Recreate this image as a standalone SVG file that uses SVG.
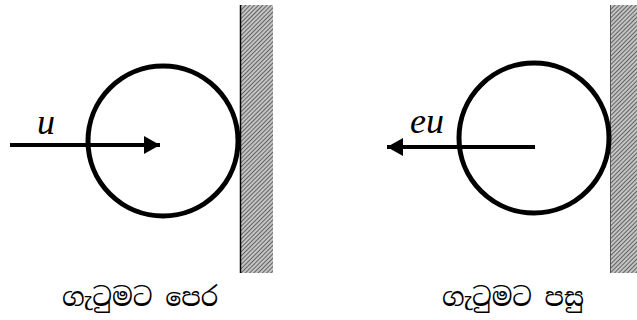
<svg xmlns="http://www.w3.org/2000/svg" width="637" height="320" viewBox="0 0 637 320">
<style>
.ball{fill:none;stroke:#000;stroke-width:5}
.vec{stroke:#000;stroke-width:4;fill:none}
.wall{fill:url(#hatch)}
</style>
<defs>
<pattern id="hatch" patternUnits="userSpaceOnUse" width="3" height="3" patternTransform="rotate(45)">
<rect width="3" height="3" fill="#c4c4c4"/>
<line x1="0" y1="0" x2="0" y2="3" stroke="#444" stroke-width="1.5"/>
</pattern>
<marker id="head" markerUnits="userSpaceOnUse" markerWidth="18" markerHeight="20" refX="16" refY="9" orient="auto">
<path d="M0,0 L16,9 L0,18 Z" fill="#000"/>
</marker>
</defs>
<g id="wall-before">
<rect class="wall" x="240" y="5" width="33" height="268"/>
<line x1="240.5" y1="5" x2="240.5" y2="273" stroke="#000" stroke-width="1.5"/>
</g>
<g id="ball-before">
<circle class="ball" cx="163" cy="141" r="75"/>
</g>
<g id="wall-after">
<rect class="wall" x="610" y="5" width="27" height="268"/>
<line x1="610.5" y1="5" x2="610.5" y2="273" stroke="#555" stroke-width="1"/>
</g>
<g id="ball-after">
<circle class="ball" cx="534" cy="138" r="75"/>
</g>
<g id="connectors">
<line class="vec" x1="10" y1="145" x2="160" y2="145" marker-end="url(#head)"/>
<line class="vec" x1="535" y1="147" x2="387" y2="147" marker-end="url(#head)"/>
</g>
<g font-family="Liberation Serif, DejaVu Serif, serif" font-style="italic" font-size="36" fill="#000">
<text x="37" y="134">u</text>
<text x="410" y="133">eu</text>
</g>
<g font-family="Noto Serif Sinhala, Noto Sans Sinhala, sans-serif" font-size="26" fill="#000">
<text x="62" y="306" textLength="156" lengthAdjust="spacingAndGlyphs">ගැටුමට පෙර</text>
<text x="442" y="306" textLength="142" lengthAdjust="spacingAndGlyphs">ගැටුමට පසු</text>
</g>
</svg>
